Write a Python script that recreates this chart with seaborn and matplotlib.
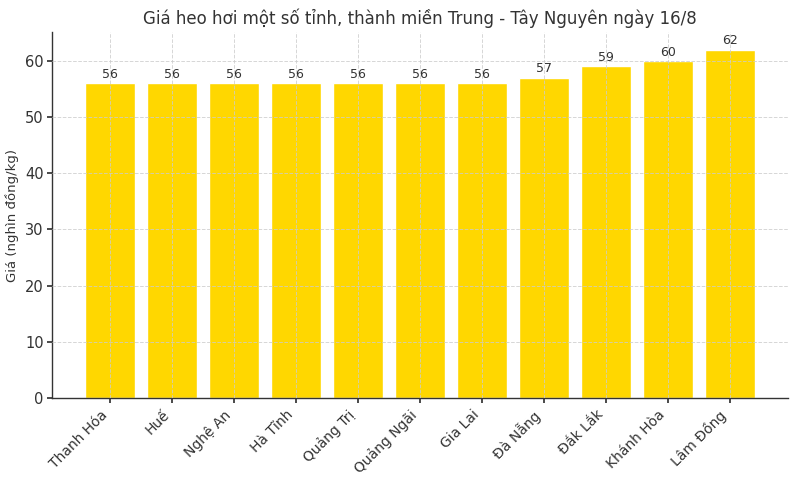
import pandas as pd
import matplotlib.pyplot as plt
import seaborn as sns

# data
provinces = ["Thanh Hóa", "Huế", "Nghệ An", "Hà Tĩnh", "Quảng Trị", "Quảng Ngãi",
             "Gia Lai", "Đà Nẵng", "Đắk Lắk", "Khánh Hòa", "Lâm Đồng"]
prices = [56, 56, 56, 56, 56, 56, 56, 57, 59, 60, 62]

df = pd.DataFrame({"province": provinces, "price": prices})

sns.set_theme(style="white")
plt.rcParams["font.family"] = ["DejaVu Sans"]
plt.rcParams["text.color"] = "#333333"
plt.rcParams["axes.labelcolor"] = "#333333"
plt.rcParams["xtick.color"] = "#333333"
plt.rcParams["ytick.color"] = "#333333"

fig, ax = plt.subplots(figsize=(8, 4.8), dpi=100)
sns.barplot(data=df, x="province", y="price", color="#FFD700", saturation=1,
            width=0.8, ax=ax)

for p, v in zip(ax.patches, prices):
    ax.text(p.get_x() + p.get_width() / 2, v + 0.4, str(v),
            ha="center", va="bottom", fontsize=9, color="#333333")

ax.set_xlim(-0.94, len(provinces) - 0.06)
ax.set_ylim(0, 65.1)
ax.set_title("Giá heo hơi một số tỉnh, thành miền Trung - Tây Nguyên ngày 16/8",
             fontsize=12, color="#333333")
ax.set_xlabel("")
ax.set_ylabel("Giá (nghìn đồng/kg)", fontsize=9.5, labelpad=4)
ax.tick_params(axis="y", labelsize=10.5, left=True, length=3.5, pad=2.5, color="#333333")
ax.tick_params(axis="x", labelsize=10, bottom=True, length=3.5, color="#333333")
plt.setp(ax.get_xticklabels(), rotation=45, ha="right")
ax.grid(True, linestyle="--", color="#cccccc", linewidth=0.7, alpha=0.8)
ax.set_axisbelow(False)
sns.despine(ax=ax)
for s in ["left", "bottom"]:
    ax.spines[s].set_color("#333333")
    ax.spines[s].set_linewidth(1)

fig.subplots_adjust(left=0.065, right=0.985, top=0.933, bottom=0.171)
plt.savefig("out.png", dpi=100)
